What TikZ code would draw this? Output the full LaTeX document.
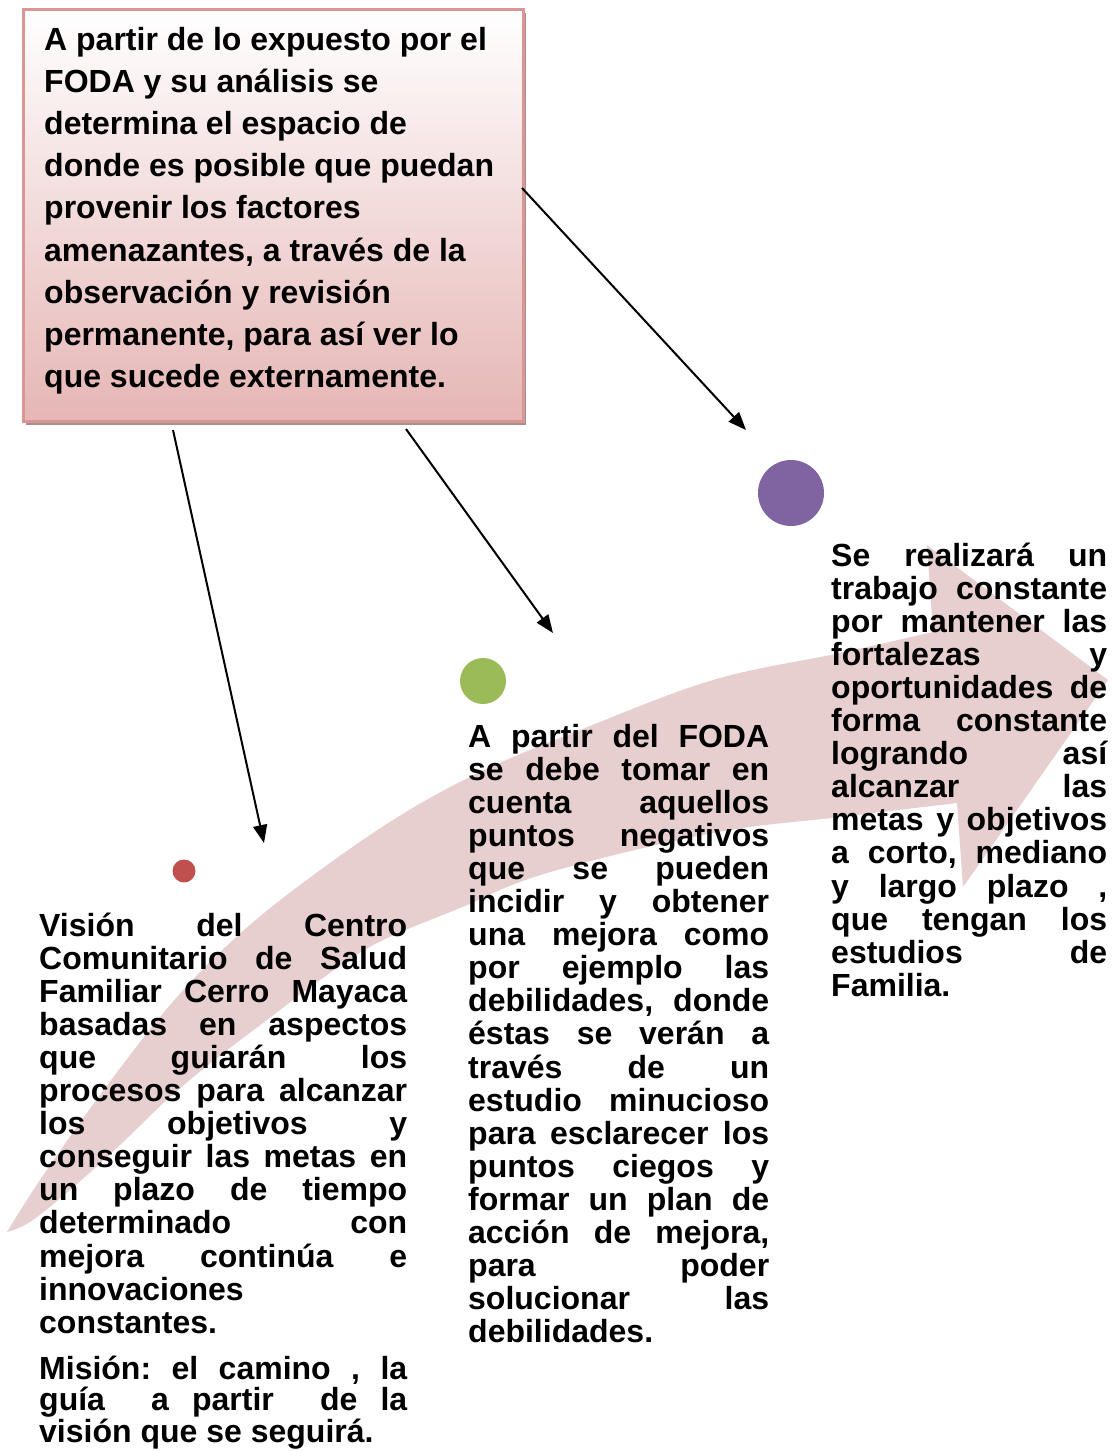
\documentclass[tikz,border=0pt]{standalone}
\usepackage{fontspec}
\setmainfont{Liberation Sans}
\usetikzlibrary{arrows.meta,shadows}
\definecolor{arrowpink}{RGB}{231,206,207}
\definecolor{boxborder}{RGB}{217,150,148}
\definecolor{boxbottom}{RGB}{229,182,181}
\definecolor{boxshadow}{RGB}{172,142,142}
\definecolor{dotred}{RGB}{192,80,77}
\definecolor{dotgreen}{RGB}{155,187,89}
\definecolor{dotpurple}{RGB}{128,100,162}

\newlength\colw
\newcommand\jl[1]{\hbox to \colw{\frenchspacing\spaceskip=0.278em plus 1fil\relax #1}}
\newcommand\lastl[1]{\hbox to \colw{\frenchspacing #1\hfill}}
\newcommand\colbox[2]{\vtop{\colw=#1\hsize=\colw\lineskiplimit=-100pt\relax #2}}

\begin{document}
\begin{tikzpicture}[x=1pt,y=1pt,
  txt/.style={anchor=base west, inner sep=0pt, font=\fontsize{32}{33.1}\selectfont\bfseries},
  txtb/.style={anchor=base west, inner sep=0pt, font=\fontsize{32}{31.6}\selectfont\bfseries},
  boxtxt/.style={anchor=base west, inner sep=0pt, font=\fontsize{32}{42.2}\selectfont\bfseries},
  conn/.style={line width=2pt, -{Triangle[length=18pt,width=14pt]}},
  dot/.style={circle, inner sep=0pt, draw=none},
  topbox/.style={draw=boxborder, line width=2.5pt, top color=white, bottom color=boxbottom,
    minimum width=500pt, minimum height=412pt, anchor=north west, inner sep=0pt,
    drop shadow={shadow xshift=3pt, shadow yshift=-4pt, fill=boxshadow, opacity=1}}]
\useasboundingbox (0,0) rectangle (1118,-1451);

% big curved arrow
\fill[arrowpink] plot[smooth, tension=0.6] coordinates {(7,-1232) (40,-1180) (100,-1095) (170,-1005) (233,-940) (300,-885) (393,-820) (480,-772) (580,-730) (713,-680) (840,-653) (933,-632)}
  -- (927,-545) -- (1108,-680) -- (963,-887)
  -- plot[smooth, tension=0.6] coordinates {(957,-803) (840,-817) (713,-833) (547,-873) (460,-908) (377,-943) (320,-980) (267,-1020) (217,-1058) (170,-1097) (120,-1145) (70,-1190) (30,-1222) (7,-1232)}
  -- cycle;

% top box
\node[topbox] (box) at (22,-8) {};
\node[boxtxt] (boxtext) at (44,-50) {\colbox{470pt}{%
\lastl{A partir de lo expuesto por el}
\lastl{FODA y su análisis se}
\lastl{determina el espacio de}
\lastl{donde es posible que puedan}
\lastl{provenir los factores}
\lastl{amenazantes, a través de la}
\lastl{observación y revisión}
\lastl{permanente, para así ver lo}
\lastl{que sucede externamente.}}};

% circles
\node[dot, fill=dotred, minimum size=23pt] (c1) at (184,-871) {};
\node[dot, fill=dotgreen, minimum size=46pt] (c2) at (483,-681) {};
\node[dot, fill=dotpurple, minimum size=66pt] (c3) at (791,-493) {};

% connector ends
\coordinate (s1) at (173,-430); \coordinate (e1) at (264,-843);
\coordinate (s2) at (406,-429); \coordinate (e2) at (553,-633);
\coordinate (s3) at (522,-188); \coordinate (e3) at (746,-430);
\draw[conn] (s1) -- (e1);
\draw[conn] (s2) -- (e2);
\draw[conn] (s3) -- (e3);

% left column
\node[txt] (vision) at (39,-936) {\colbox{368pt}{%
\jl{Visión del Centro}
\jl{Comunitario de Salud}
\jl{Familiar Cerro Mayaca}
\jl{basadas en aspectos}
\jl{que guiarán los}
\jl{procesos para alcanzar}
\jl{los objetivos y}
\jl{conseguir las metas en}
\jl{un plazo de tiempo}
\jl{determinado con}
\jl{mejora continúa e}
\lastl{innovaciones}
\lastl{constantes.}}};

\node[txtb] (mision) at (39,-1379) {\colbox{368pt}{%
\jl{Misión: el camino , la}
\jl{guía \ a partir \ de la}
\lastl{visión que se seguirá.}}};

% middle column
\node[txt] (foda) at (468,-747) {\colbox{301pt}{%
\jl{A partir del FODA}
\jl{se debe tomar en}
\jl{cuenta aquellos}
\jl{puntos negativos}
\jl{que se pueden}
\jl{incidir y obtener}
\jl{una mejora como}
\jl{por ejemplo las}
\jl{debilidades, donde}
\jl{éstas se verán a}
\jl{través de un}
\jl{estudio minucioso}
\jl{para esclarecer los}
\jl{puntos ciegos y}
\jl{formar un plan de}
\jl{acción de mejora,}
\jl{para poder}
\jl{solucionar las}
\lastl{debilidades.}}};

% right column
\node[txt] (trabajo) at (831,-566) {\colbox{276pt}{%
\jl{Se realizará un}
\jl{trabajo constante}
\jl{por mantener las}
\jl{fortalezas y}
\jl{oportunidades de}
\jl{forma constante}
\jl{logrando así}
\jl{alcanzar las}
\jl{metas y objetivos}
\jl{a corto, mediano}
\jl{y largo plazo ,}
\jl{que tengan los}
\jl{estudios de}
\lastl{Familia.}}};
\end{tikzpicture}
\end{document}
